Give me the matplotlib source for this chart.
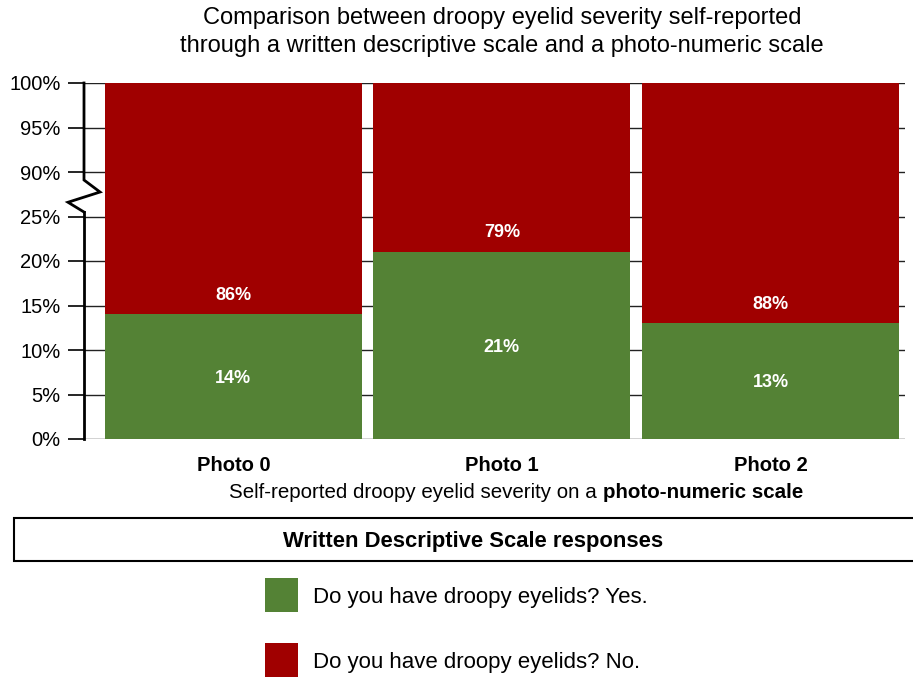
import numpy as np
import matplotlib
matplotlib.use('agg')
import matplotlib.pyplot as plt
from matplotlib.patches import Rectangle
from matplotlib.offsetbox import TextArea, HPacker, AnnotationBbox
import matplotlib.transforms as mtransforms

plt.rcParams['font.family'] = ['Liberation Sans', 'DejaVu Sans']

GREEN = '#548235'
RED = '#a00000'

categories = ['Photo 0', 'Photo 1', 'Photo 2']
yes_pct = [14, 21, 13]
no_pct = [86, 79, 88]

# broken axis: 0-25% shown at true scale, then 90-100% squeezed on top
tick_labels = ['0%', '5%', '10%', '15%', '20%', '25%', '90%', '95%', '100%']
tick_pos = [0, 5, 10, 15, 20, 25, 30, 35, 40]
TOP = 40

fig = plt.figure(figsize=(9.13, 6.78), dpi=100)
ax = fig.add_axes([84 / 913, 1 - 439 / 678, 821 / 913, 356 / 678])

x = np.arange(len(categories))
width = 0.957
yes = np.array(yes_pct, dtype=float)
ax.bar(x, yes, width, color=GREEN, zorder=2)
ax.bar(x, TOP - yes, width, bottom=yes, color=RED, zorder=2)

for xi, y, n in zip(x, yes_pct, no_pct):
    ax.text(xi, y / 2 - 0.2, '%d%%' % y, ha='center', va='center', color='white',
            fontsize=13, fontweight='bold', zorder=3)
    ax.text(xi, y + 2.15, '%d%%' % n, ha='center', va='center', color='white',
            fontsize=13, fontweight='bold', zorder=3)

ax.set_xlim(-0.556, 2.501)
ax.set_ylim(0, TOP)
ax.set_yticks(tick_pos)
ax.set_yticklabels(tick_labels, fontsize=14.5)
ax.set_xticks(x)
ax.set_xticklabels(categories, fontsize=14.5, fontweight='bold')
ax.tick_params(axis='x', length=0, pad=12)
ax.tick_params(axis='y', length=11.5, width=1.2, pad=5.5, direction='out')
ax.yaxis.grid(True, color='#222222', linewidth=1.0, zorder=0)
ax.set_axisbelow(True)

for side in ['top', 'right', 'bottom']:
    ax.spines[side].set_visible(False)
ax.spines['left'].set_linewidth(2)
ax.spines['left'].set_bounds(0, 25.5)

# zigzag break and the upper piece of the axis line
trans = mtransforms.blended_transform_factory(ax.transAxes, ax.transData)
ax.plot([0, -0.0195, 0.0195, 0, 0], [25.5, 26.6, 27.75, 29.1, TOP],
        transform=trans, color='black', linewidth=2, clip_on=False,
        solid_joinstyle='miter', zorder=5)

fig.text(502 / 913, 1 - 32 / 678, 'Comparison between droopy eyelid severity self-reported\n'
         'through a written descriptive scale and a photo-numeric scale',
         ha='center', va='center', fontsize=17, linespacing=1.3)

# x axis title with the bold ending
part1 = TextArea('Self-reported droopy eyelid severity on a',
                 textprops=dict(fontsize=14.8))
part2 = TextArea('photo-numeric scale',
                 textprops=dict(fontsize=14.8, fontweight='bold'))
pack = HPacker(children=[part1, part2], align='baseline', pad=0, sep=5)
ab = AnnotationBbox(pack, (516 / 913, 1 - 493 / 678), xycoords='figure fraction',
                    frameon=False, box_alignment=(0.5, 0.5))
fig.add_artist(ab)

# legend panel
W, H = 913, 678
fig.patches.append(Rectangle((14 / W, 1 - 561 / H), 920 / W, 43 / H,
                             transform=fig.transFigure, facecolor='white',
                             edgecolor='black', linewidth=1.5))
fig.text(473 / W, 1 - 541 / H, 'Written Descriptive Scale responses',
         ha='center', va='center', fontsize=15.8, fontweight='bold')

legend_items = [(GREEN, 'Do you have droopy eyelids? Yes.', 595),
                (RED, 'Do you have droopy eyelids? No.', 660)]
for color, label, yc in legend_items:
    fig.patches.append(Rectangle((265 / W, 1 - (yc + 17) / H), 33 / W, 34 / H,
                                 transform=fig.transFigure, facecolor=color,
                                 edgecolor='none'))
    fig.text(313 / W, 1 - (yc + 2.5) / H, label, ha='left', va='center', fontsize=16)

fig.savefig('out.png', dpi=100)
